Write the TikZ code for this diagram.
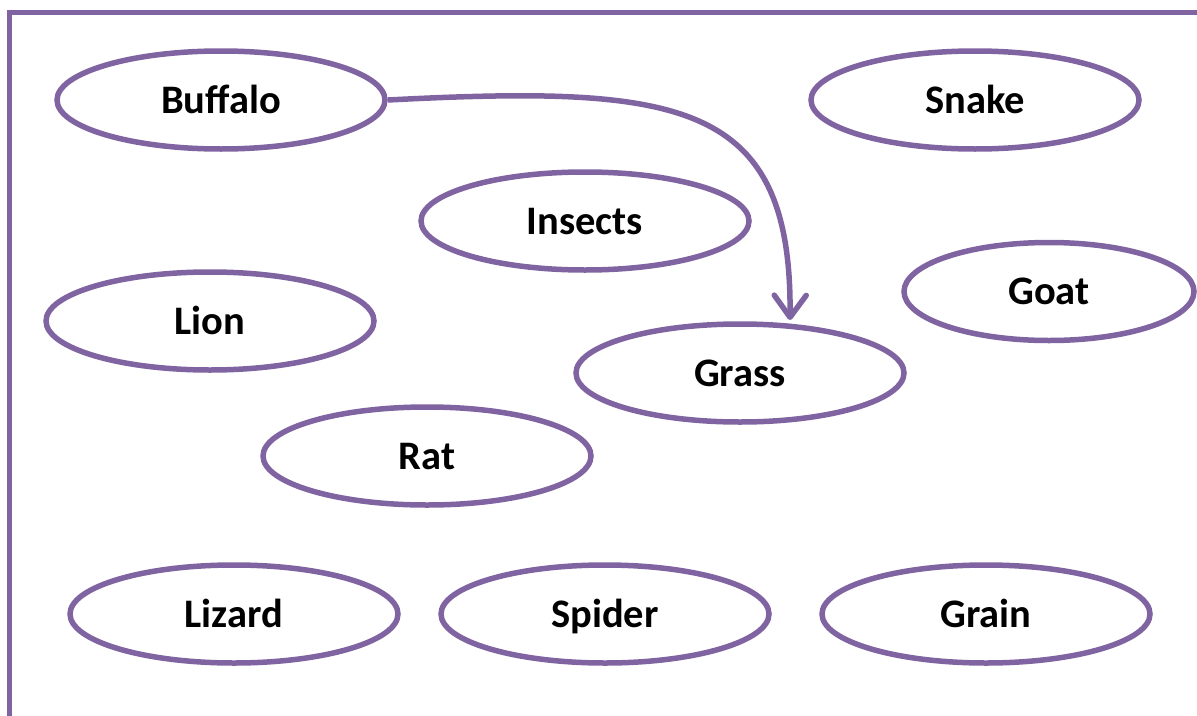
\documentclass[tikz,border=0pt]{standalone}
\usepackage{fontspec}
\setmainfont{Carlito}
\usetikzlibrary{shapes.geometric,arrows.meta}
\definecolor{frameviolet}{HTML}{8064A2}
\begin{document}
\begin{tikzpicture}[x=1pt,y=-1pt,
  animal/.style={ellipse,draw=frameviolet,line width=5.5pt,inner sep=0pt,
    minimum width=328pt,minimum height=98pt,
    font=\fontsize{40.5}{46}\selectfont\bfseries,text height=26pt,text depth=0pt},
  link/.style={draw=frameviolet,line width=5.5pt,
    -{Straight Barb[length=22pt,width=32pt,line cap=round,line join=round]}}]
\useasboundingbox (0,0) rectangle (1197,715);
\draw[frameviolet,line width=5.5pt] (9.5,760) -- (9.5,12.5) -- (1260,12.5);
\node[animal] (buffalo) at (221,100) {Buffalo};
\node[animal] (snake) at (975,100) {Snake};
\node[animal] (insects) at (585,221) {Insects};
\node[animal] (lion) at (210,321) {Lion};
\node[animal,minimum width=290pt] (goat) at (1049,291.5) {Goat};
\node[animal] (grass) at (740,373) {Grass};
\node[animal] (rat) at (427,456) {Rat};
\node[animal] (lizard) at (234,614) {Lizard};
\node[animal] (spider) at (605,614) {Spider};
\node[animal] (grain) at (986,614) {Grain};
\coordinate (tip) at (790,320);
\draw[link] (buffalo.east) .. controls (680,85) and (792,100) .. (tip);
\end{tikzpicture}
\end{document}
